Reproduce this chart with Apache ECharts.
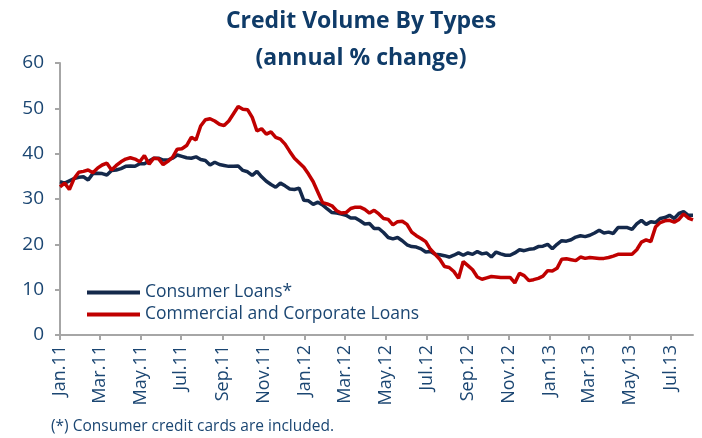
<!DOCTYPE html>
<html>
<head>
<meta charset="utf-8">
<script src="https://cdn.jsdelivr.net/npm/echarts@6/dist/echarts.min.js"></script>
<style>
  html, body { margin: 0; padding: 0; background: #ffffff; }
  #chart { width: 702px; height: 438px; }
</style>
</head>
<body>
<div id="chart"></div>
<script>
// Weekly observations (Fridays), first week 7 Jan 2011
const firstWeek = [2011, 0, 7];

// Annual % change, consumer loans (incl. credit cards)
const consumerLoans = [
  33.8, 33.5, 34.0, 34.5, 34.8, 34.9, 34.2, 35.6, 35.7, 35.6,
  35.3, 36.3, 36.4, 36.7, 37.2, 37.3, 37.2, 37.8, 37.8, 38.4,
  39.0, 39.0, 38.6, 38.6, 39.0, 39.7, 39.4, 39.1, 39.0, 39.3,
  38.7, 38.5, 37.5, 38.1, 37.6, 37.4, 37.2, 37.2, 37.3, 36.3,
  36.0, 35.2, 36.1, 34.9, 33.9, 33.2, 32.6, 33.5, 32.9, 32.2,
  32.1, 32.4, 29.7, 29.6, 28.8, 29.3, 28.7, 27.8, 27.0, 26.9,
  26.7, 26.4, 25.8, 25.8, 25.2, 24.5, 24.6, 23.5, 23.5, 22.6,
  21.5, 21.2, 21.5, 20.8, 19.9, 19.5, 19.4, 19.0, 18.3, 18.4,
  17.8, 17.7, 17.5, 17.2, 17.6, 18.1, 17.6, 18.1, 17.8, 18.4,
  17.9, 18.1, 17.2, 18.3, 17.9, 17.6, 17.6, 18.1, 18.8, 18.6,
  18.9, 19.0, 19.5, 19.6, 20.0, 19.0, 20.0, 20.8, 20.7, 21.0,
  21.6, 21.9, 21.7, 22.0, 22.5, 23.1, 22.5, 22.7, 22.4, 23.7,
  23.7, 23.7, 23.3, 24.5, 25.3, 24.4, 25.0, 24.8, 25.7, 25.9,
  26.4, 25.7, 26.8, 27.2, 26.4, 26.4
];

// Annual % change, commercial and corporate loans
const commercialLoans = [
  32.7, 33.5, 32.1, 34.5, 35.9, 36.1, 36.4, 35.8, 36.8, 37.5,
  37.9, 36.4, 37.4, 38.2, 38.8, 39.1, 38.8, 38.2, 39.6, 37.7,
  39.0, 38.9, 37.6, 38.3, 39.2, 41.0, 41.1, 41.8, 43.6, 43.0,
  46.1, 47.5, 47.7, 47.2, 46.5, 46.2, 47.2, 48.8, 50.4, 49.8,
  49.7, 48.0, 45.0, 45.5, 44.3, 44.8, 43.6, 43.2, 42.1, 40.5,
  39.0, 38.0, 37.0, 35.5, 33.8, 31.5, 29.2, 28.9, 28.5, 27.4,
  26.9, 27.0, 27.9, 28.2, 28.2, 27.7, 26.9, 27.5, 26.7, 25.7,
  25.5, 24.3, 25.0, 25.1, 24.4, 22.7, 21.9, 21.3, 20.6, 18.9,
  17.8, 16.7, 15.1, 14.9, 14.0, 12.5, 16.2, 15.3, 14.4, 12.8,
  12.3, 12.6, 12.9, 12.8, 12.7, 12.7, 12.7, 11.5, 13.6, 13.1,
  12.0, 12.2, 12.5, 13.0, 14.2, 14.1, 14.7, 16.7, 16.8, 16.6,
  16.4, 17.2, 16.9, 17.1, 17.0, 16.9, 16.9, 17.1, 17.4, 17.8,
  17.8, 17.8, 17.8, 18.8, 20.5, 21.0, 20.6, 23.8, 24.8, 25.2,
  25.3, 24.9, 25.5, 26.7, 25.8, 25.4
];

// Bimonthly tick labels along the date axis
const tickLabels = [
  'Jan.11', 'Mar.11', 'May.11', 'Jul.11', 'Sep.11', 'Nov.11',
  'Jan.12', 'Mar.12', 'May.12', 'Jul.12', 'Sep.12', 'Nov.12',
  'Jan.13', 'Mar.13', 'May.13', 'Jul.13'
];

const seriesNames = ['Consumer Loans*', 'Commercial and Corporate Loans'];

const MONTHS = ['Jan', 'Feb', 'Mar', 'Apr', 'May', 'Jun', 'Jul', 'Aug', 'Sep', 'Oct', 'Nov', 'Dec'];
const DAY = 86400000;
const origin = Date.UTC(firstWeek[0], firstWeek[1], firstWeek[2]);

// Day offsets of the weekly observations from the first week
const weekDays = consumerLoans.map((_, i) =>
  Math.round((Date.UTC(firstWeek[0], firstWeek[1], firstWeek[2] + 7 * i) - origin) / DAY));

// Tick positions: same day of month as the first week, every two months
const tickDays = tickLabels.map(lbl => {
  const [mon, yy] = lbl.split('.');
  return Math.round((Date.UTC(2000 + Number(yy), MONTHS.indexOf(mon), firstWeek[2]) - origin) / DAY);
});
const labelByDay = {};
tickDays.forEach((d, i) => { labelByDay[d] = tickLabels[i]; });

const TEXT = '#1b4672';
const AXIS = '#a6a6a6';
const FONT = 'Open Sans';

const chart = echarts.init(document.getElementById('chart'), null, { renderer: 'canvas' });

chart.setOption({
  animation: false,
  backgroundColor: '#ffffff',
  title: [{
    text: 'Credit Volume By Types\n(annual % change)',
    left: 361,
    top: 3,
    padding: 0,
    textAlign: 'center',
    textStyle: {
      fontFamily: FONT,
      fontWeight: 'bold',
      fontSize: 23,
      lineHeight: 37,
      color: '#0f3b68'
    }
  }, {
    text: '(*) Consumer credit cards are included.',
    left: 51,
    top: 416,
    padding: 0,
    textStyle: {
      fontFamily: FONT,
      fontWeight: 'normal',
      fontSize: 15.5,
      lineHeight: 22,
      color: TEXT
    }
  }],
  legend: {
    data: seriesNames,
    orient: 'vertical',
    left: 87,
    top: 282,
    padding: 0,
    icon: 'rect',
    itemWidth: 53,
    itemHeight: 4,
    itemGap: 1,
    textStyle: {
      fontFamily: FONT,
      fontSize: 17.5,
      lineHeight: 21,
      color: TEXT
    }
  },
  grid: { left: 60, right: 9, top: 63, bottom: 103, containLabel: false },
  xAxis: {
    type: 'value',
    min: weekDays[0],
    max: weekDays[weekDays.length - 1],
    splitLine: { show: false },
    axisLine: { show: true, lineStyle: { color: AXIS, width: 2 } },
    axisTick: {
      show: true,
      length: 5,
      customValues: tickDays,
      lineStyle: { color: AXIS, width: 2 }
    },
    axisLabel: {
      customValues: tickDays,
      rotate: 90,
      margin: 10,
      fontFamily: FONT,
      fontSize: 18,
      color: TEXT,
      formatter: v => labelByDay[Math.round(v)] || ''
    }
  },
  yAxis: {
    type: 'value',
    min: 0,
    max: 60,
    interval: 10,
    splitLine: { show: false },
    axisLine: { show: true, lineStyle: { color: AXIS, width: 2 } },
    axisTick: { show: true, length: 5, lineStyle: { color: AXIS, width: 2 } },
    axisLabel: {
      margin: 16,
      fontFamily: FONT,
      fontSize: 19,
      color: TEXT
    }
  },
  series: [{
    name: seriesNames[0],
    type: 'line',
    symbol: 'none',
    lineStyle: { color: '#14294b', width: 3.5 },
    itemStyle: { color: '#14294b' },
    data: weekDays.map((d, i) => [d, consumerLoans[i]])
  }, {
    name: seriesNames[1],
    type: 'line',
    symbol: 'none',
    lineStyle: { color: '#c00000', width: 3.5 },
    itemStyle: { color: '#c00000' },
    data: weekDays.map((d, i) => [d, commercialLoans[i]])
  }]
});
</script>
</body>
</html>
